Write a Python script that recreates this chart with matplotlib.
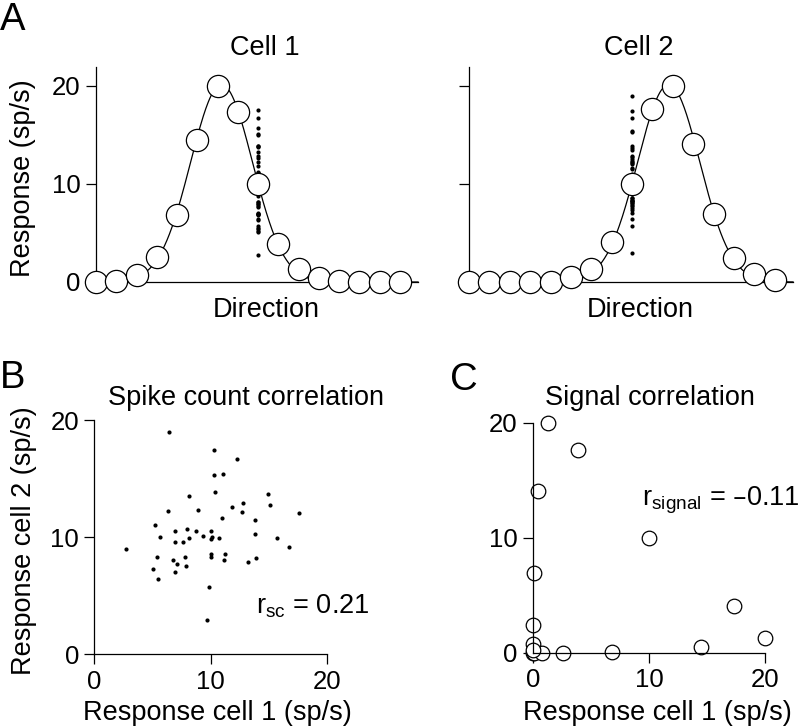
import matplotlib
matplotlib.use('Agg')
import matplotlib.pyplot as plt
import numpy as np

plt.rcParams['font.family'] = ['Liberation Sans', 'DejaVu Sans']
plt.rcParams['mathtext.default'] = 'regular'

# mean response at each of the 16 directions (sp/s)
direction_idx = np.arange(16)
cell1_mean = [0, 0.1, 0.75, 2.55, 6.8, 14.5, 20, 17.3, 10, 3.85, 1.3, 0.4, 0.07, 0, 0, 0]
cell2_mean = [0, 0, 0, 0, 0.05, 0.5, 1.3, 4.05, 10, 17.6, 20, 14.1, 6.95, 2.4, 0.8, 0.25]

# tuning curve fits (peak, preferred direction index, width)
cell1_fit = (20.1, 6.2, 1.53)
cell2_fit = (20.1, 9.8, 1.53)

# single-trial responses at the test direction
test_idx = 8
trial_cell1 = [6.44, 10.24, 12.27, 10.30, 11.07, 10.36, 8.10, 14.94, 6.32, 8.93,
               11.82, 12.79, 12.65, 15.11, 17.54, 5.24, 10.93, 13.76, 5.67, 6.95,
               7.95, 8.76, 10.01, 8.13, 9.33, 10.13, 9.99, 10.73, 6.90, 7.61,
               13.82, 15.71, 2.72, 16.68, 5.35, 6.78, 7.07, 7.75, 7.90, 10.01,
               9.99, 11.19, 11.10, 13.22, 13.85, 5.06, 6.90, 5.49, 9.87, 9.70]
trial_cell2 = [18.97, 17.41, 16.67, 15.30, 15.41, 13.82, 13.48, 13.68, 12.25, 12.36,
               12.56, 12.88, 12.17, 12.74, 12.02, 11.00, 11.60, 11.48, 10.00, 10.54,
               10.68, 10.51, 10.51, 9.97, 10.09, 10.03, 9.83, 9.91, 9.60, 9.60,
               10.26, 9.89, 8.95, 9.12, 8.32, 8.03, 7.75, 8.29, 7.55, 8.58,
               8.29, 8.58, 8.09, 7.89, 8.26, 7.29, 7.04, 6.41, 5.73, 2.91]

W, H = 800, 727
fig = plt.figure(figsize=(W / 100, H / 100), dpi=100)


def px_axes(x0, y0, x1, y1):
    # axes from pixel box (top-left origin)
    return fig.add_axes([x0 / W, 1 - y1 / H, (x1 - x0) / W, (y1 - y0) / H])


def style(ax):
    for s in ['top', 'right']:
        ax.spines[s].set_visible(False)
    for s in ['left', 'bottom']:
        ax.spines[s].set_linewidth(0.9)
    ax.tick_params(direction='out', length=7, width=0.9, labelsize=18.5, pad=4)


def tuning(ax, mean, fit, trials, labels):
    style(ax)
    xs = np.linspace(0, 15.9, 400)
    peak, pref, width = fit
    ax.plot(xs, peak * np.exp(-(xs - pref) ** 2 / (2 * width ** 2)),
            color='black', lw=0.9, clip_on=False, zorder=2)
    ax.plot([test_idx] * len(trials), trials, 'o', ms=3, color='black',
            mec='none', clip_on=False, zorder=3)
    ax.plot(direction_idx, mean, 'o', ms=16, mfc='white', mec='black',
            mew=0.9, clip_on=False, zorder=4)
    ax.set_xlim(0, 15.9)
    ax.set_ylim(0, 21.9)
    ax.set_xticks([])
    ax.set_yticks([0, 10, 20])
    if not labels:
        ax.set_yticklabels([])
    ax.text(0.53, -0.164, 'Direction', transform=ax.transAxes, ha='center',
            va='baseline', fontsize=19.5)


axA1 = px_axes(96, 67, 418, 282)
tuning(axA1, cell1_mean, cell1_fit, trial_cell1, True)
axA1.text(0.525, 1.056, 'Cell 1', transform=axA1.transAxes, ha='center',
          va='baseline', fontsize=19.5)

axA2 = px_axes(469, 67, 793, 282)
tuning(axA2, cell2_mean, cell2_fit, trial_cell2, False)
axA2.text(0.525, 1.056, 'Cell 2', transform=axA2.transAxes, ha='center',
          va='baseline', fontsize=19.5)

fig.text(23.5 / W, 1 - 178 / H, 'Response (sp/s)', rotation=90, ha='center',
         va='center', fontsize=19.5)
fig.text(0, 1 - 30 / H, 'A', fontsize=27.5, va='baseline', ha='left')

# B: spike count correlation
axB = px_axes(94.3, 420, 327.3, 654.3)
style(axB)
axB.plot(trial_cell1, trial_cell2, 'o', ms=3, color='black', mec='none',
         clip_on=False)
axB.set_xlim(0, 20)
axB.set_ylim(0, 20)
axB.set_xticks([0, 10, 20])
axB.set_yticks([0, 10, 20])
axB.text(13.9, 3.5, r'r$_{sc}$ = 0.21', fontsize=19.5, va='baseline')
fig.text(246 / W, 1 - 405 / H, 'Spike count correlation', ha='center',
         va='baseline', fontsize=19.5)
fig.text(217 / W, 1 - 720 / H, 'Response cell 1 (sp/s)', ha='center',
         va='baseline', fontsize=19.5)
fig.text(24 / W, 1 - 541 / H, 'Response cell 2 (sp/s)', rotation=90,
         ha='center', va='center', fontsize=19.5)
fig.text(0, 1 - 388 / H, 'B', fontsize=27.5, va='baseline', ha='left')

# C: signal correlation
axC = px_axes(533, 422.7, 765, 652.7)
style(axC)
axC.plot(cell1_mean, cell2_mean, 'o', ms=10.5, mfc='white', mec='black',
         mew=0.9, clip_on=False)
axC.set_xlim(0, 20)
axC.set_ylim(0, 20)
axC.set_xticks([0, 10, 20])
axC.set_yticks([0, 10, 20])
axC.text(9.4, 12.84, 'r$_{signal}$ = \u20130.11', fontsize=19.5,
         va='baseline', clip_on=False)
fig.text(650 / W, 1 - 405 / H, 'Signal correlation', ha='center',
         va='baseline', fontsize=19.5)
fig.text(657 / W, 1 - 720 / H, 'Response cell 1 (sp/s)', ha='center',
         va='baseline', fontsize=19.5)
fig.text(450 / W, 1 - 390 / H, 'C', fontsize=27.5, va='baseline', ha='left')

fig.savefig('out.png', dpi=100)
